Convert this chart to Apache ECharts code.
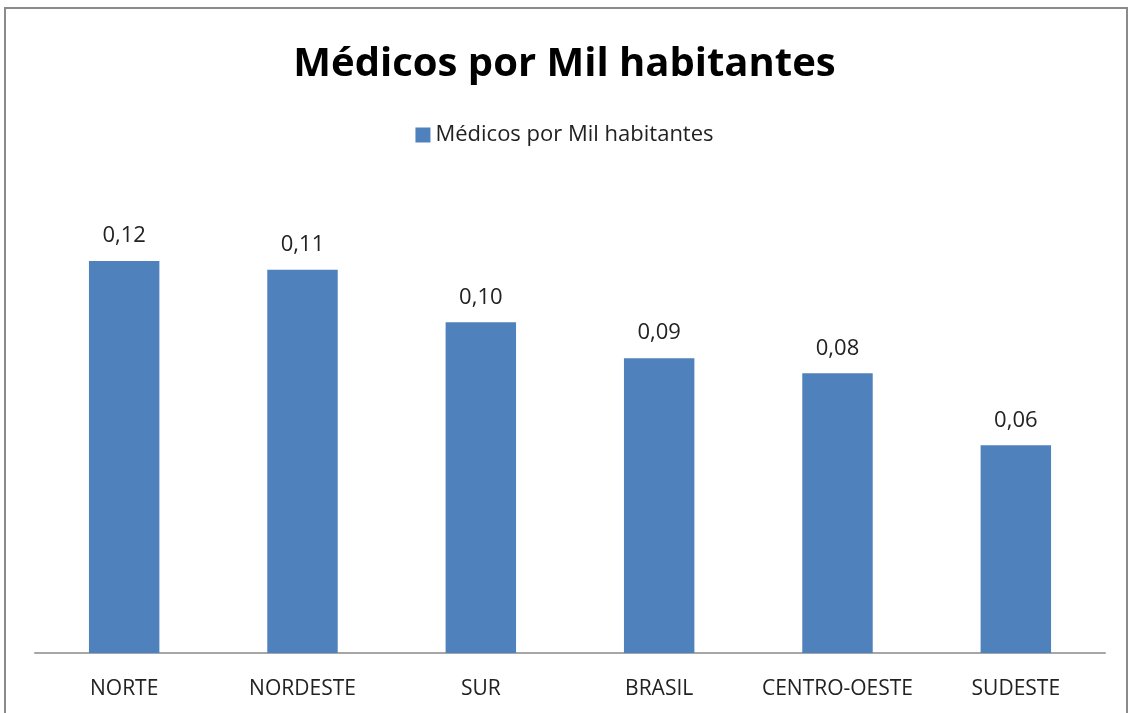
<!DOCTYPE html>
<html>
<head>
<meta charset="utf-8">
<script src="https://cdn.jsdelivr.net/npm/echarts@6/dist/echarts.min.js"></script>
<style>
html,body{margin:0;padding:0;background:#fff;}
#chart{width:1129px;height:713px;}
</style>
</head>
<body>
<div id="chart"></div>
<script>
const titleText = 'Médicos por Mil habitantes';
const seriesName = 'Médicos por Mil habitantes';
const categories = ['NORTE', 'NORDESTE', 'SUR', 'BRASIL', 'CENTRO-OESTE', 'SUDESTE'];
const values = [0.117, 0.1144, 0.0987, 0.0880, 0.0835, 0.0620];
const yMax = 0.14;

const chart = echarts.init(document.getElementById('chart'));
const fontFam = 'Open Sans';
chart.setOption({
  animation: false,
  backgroundColor: '#ffffff',
  graphic: [{
    type: 'rect',
    shape: {x: 5, y: 8, width: 1122, height: 720},
    style: {fill: 'none', stroke: '#8a8a8a', lineWidth: 2},
    silent: true
  }],
  title: {
    text: titleText,
    left: 'center',
    top: 40,
    textStyle: {fontFamily: fontFam, fontWeight: 'bold', fontSize: 40, color: '#000'}
  },
  legend: {
    data: [seriesName],
    top: 119,
    left: 'center',
    icon: 'rect',
    itemWidth: 15,
    itemHeight: 15,
    itemGap: 5,
    textStyle: {fontFamily: fontFam, fontSize: 22, color: '#222'}
  },
  grid: {left: 35, right: 24, top: 184, bottom: 60, containLabel: false},
  xAxis: {
    type: 'category',
    data: categories,
    axisLine: {lineStyle: {color: '#a6a6a6', width: 2}},
    axisTick: {show: false},
    axisLabel: {interval: 0, fontFamily: fontFam, fontSize: 21, color: '#222', margin: 26}
  },
  yAxis: {
    type: 'value',
    min: 0,
    max: yMax,
    show: false,
    splitLine: {show: false}
  },
  series: [{
    name: seriesName,
    type: 'bar',
    data: values,
    barWidth: '39.5%',
    itemStyle: {color: '#4f81bd'},
    label: {
      show: true,
      position: 'top',
      distance: 14,
      fontFamily: fontFam,
      fontSize: 22,
      color: '#222',
      formatter: p => p.value.toFixed(2).replace('.', ',')
    }
  }]
});
</script>
</body>
</html>
